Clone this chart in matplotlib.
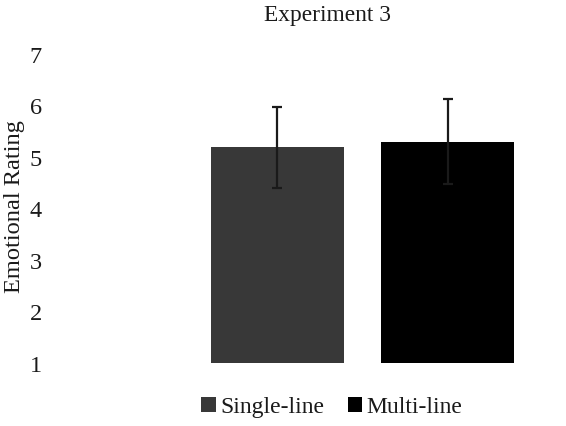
import matplotlib.pyplot as plt

# 数据
groups = ['Single-line', 'Multi-line']
means = [5.19, 5.30]
errors = [0.79, 0.82]
colors = ['#383838', '#000000']
y_ticks = [1, 2, 3, 4, 5, 6, 7]

plt.rcParams['font.family'] = ['Liberation Serif', 'DejaVu Serif']

fig = plt.figure(figsize=(5.66, 4.27), dpi=100)
ax = fig.add_axes([50 / 566, 63 / 427, 510 / 566, 309 / 427])

for i in range(len(groups)):
    ax.bar(i, means[i] - 1, bottom=1, width=0.78, color=colors[i], label=groups[i])
    ax.errorbar(i, means[i], yerr=errors[i], color='#1a1a1a', lw=1.6,
                capsize=3.8, capthick=1.6)

ax.set_xlim(-1.334, 1.657)
ax.set_ylim(1, 7)
ax.set_yticks(y_ticks)
ax.tick_params(axis='y', length=0, pad=6, labelsize=17.5, labelcolor='#1a1a1a')
ax.set_xticks([])
for s in ax.spines.values():
    s.set_visible(False)

# 坐标轴标题和图标题
fig.text(15 / 566, 1 - 207 / 427, 'Emotional Rating', rotation=90, fontsize=17.6,
         ha='center', va='center', color='#1a1a1a')
fig.text(328 / 566, 1 - 16 / 427, 'Experiment 3', fontsize=16.8,
         ha='center', va='center', color='#1a1a1a')

fig.legend(loc='center', bbox_to_anchor=(332 / 566, 1 - 408 / 427), ncol=2,
           frameon=False, fontsize=17, handlelength=0.6, handleheight=0.6,
           handletextpad=0.2, columnspacing=1.0, labelcolor='#1a1a1a')

plt.savefig('out.png')
plt.close()
